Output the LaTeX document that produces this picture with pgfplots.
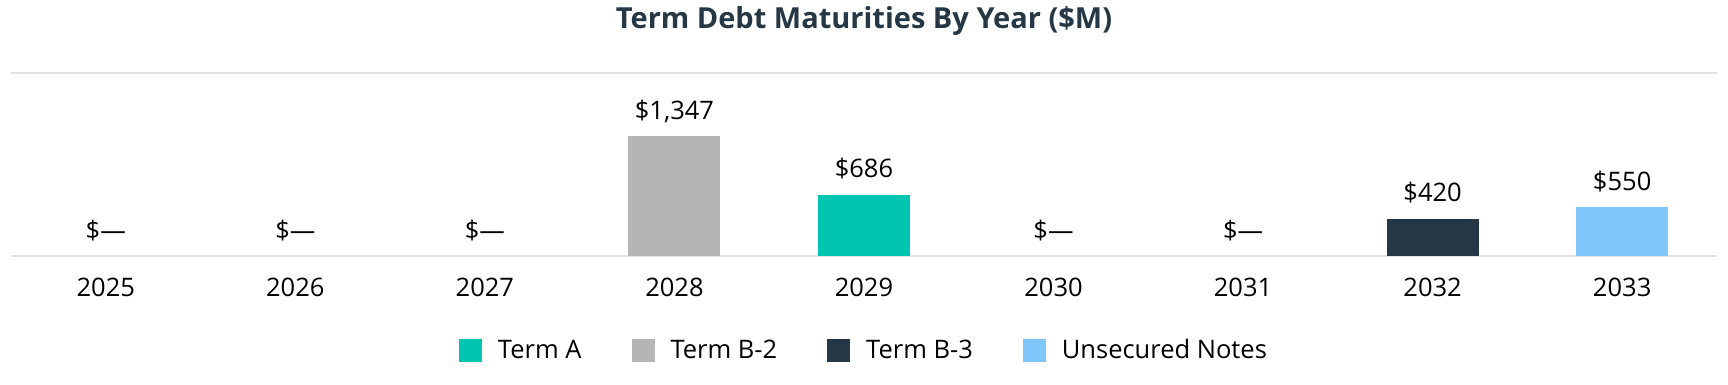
\documentclass[border=0pt]{standalone}
\usepackage{pgfplots}
\pgfplotsset{compat=1.18}
\usepackage{fontspec}
\setmainfont{Open Sans}
\definecolor{termA}{HTML}{00C5B0}
\definecolor{termB2}{HTML}{B5B5B5}
\definecolor{termB3}{HTML}{253746}
\definecolor{unsec}{HTML}{80C6FB}
\definecolor{titlec}{HTML}{263746}
\definecolor{gridc}{HTML}{E2E2E2}
\begin{document}
\begin{tikzpicture}
\useasboundingbox (0,0) rectangle (1728pt,384pt);
\begin{axis}[
  at={(11pt,128pt)}, anchor=south west,
  scale only axis, width=1706pt, height=183pt,
  xmin=-0.5, xmax=8.5, ymin=0, ymax=2055,
  ybar, bar width=92pt, bar shift=0pt,
  clip=false,
  axis line style={draw=none},
  xtick={0,1,2,3,4,5,6,7,8},
  xticklabels={2025,2026,2027,2028,2029,2030,2031,2032,2033},
  ytick={0,2055}, yticklabels={},
  ymajorgrids, major grid style={color=gridc, line width=1.5pt},
  major tick length=0pt,
  xticklabel style={font=\fontsize{25.5}{30}\selectfont, anchor=base, yshift=-40pt},
  title={\textbf{Term Debt Maturities By Year (\$M)}},
  title style={font=\fontsize{29}{34}\selectfont, color=titlec, at={(0.5,1)}, anchor=center, yshift=46pt},
  point meta=explicit symbolic,
  nodes near coords,
  every node near coord/.append style={font=\fontsize{25.5}{30}\selectfont, anchor=base, yshift=17pt, color=black},
  legend style={at={(0.5,0)}, anchor=center, yshift=-94pt, draw=none, font=\fontsize{25.5}{30}\selectfont,
    /tikz/every even column/.append style={column sep=48pt},
    /tikz/every odd column/.append style={column sep=14pt}},
  legend columns=4,
  legend image code/.code={\fill[#1] (0pt,-11.5pt) rectangle (23pt,11.5pt);},
]
\addplot[fill=termA, draw=none] coordinates {(4,686) [\$686]};
\addlegendentry{Term A}
\addplot[fill=termB2, draw=none] coordinates {(3,1347) [\$1,347]};
\addlegendentry{Term B-2}
\addplot[fill=termB3, draw=none] coordinates {(7,420) [\$420]};
\addlegendentry{Term B-3}
\addplot[fill=unsec, draw=none] coordinates {(8,550) [\$550]};
\addlegendentry{Unsecured Notes}
\addplot[fill=none, draw=none, forget plot] coordinates {(0,0) [\$—] (1,0) [\$—] (2,0) [\$—] (5,0) [\$—] (6,0) [\$—]};
\end{axis}
\end{tikzpicture}
\end{document}
